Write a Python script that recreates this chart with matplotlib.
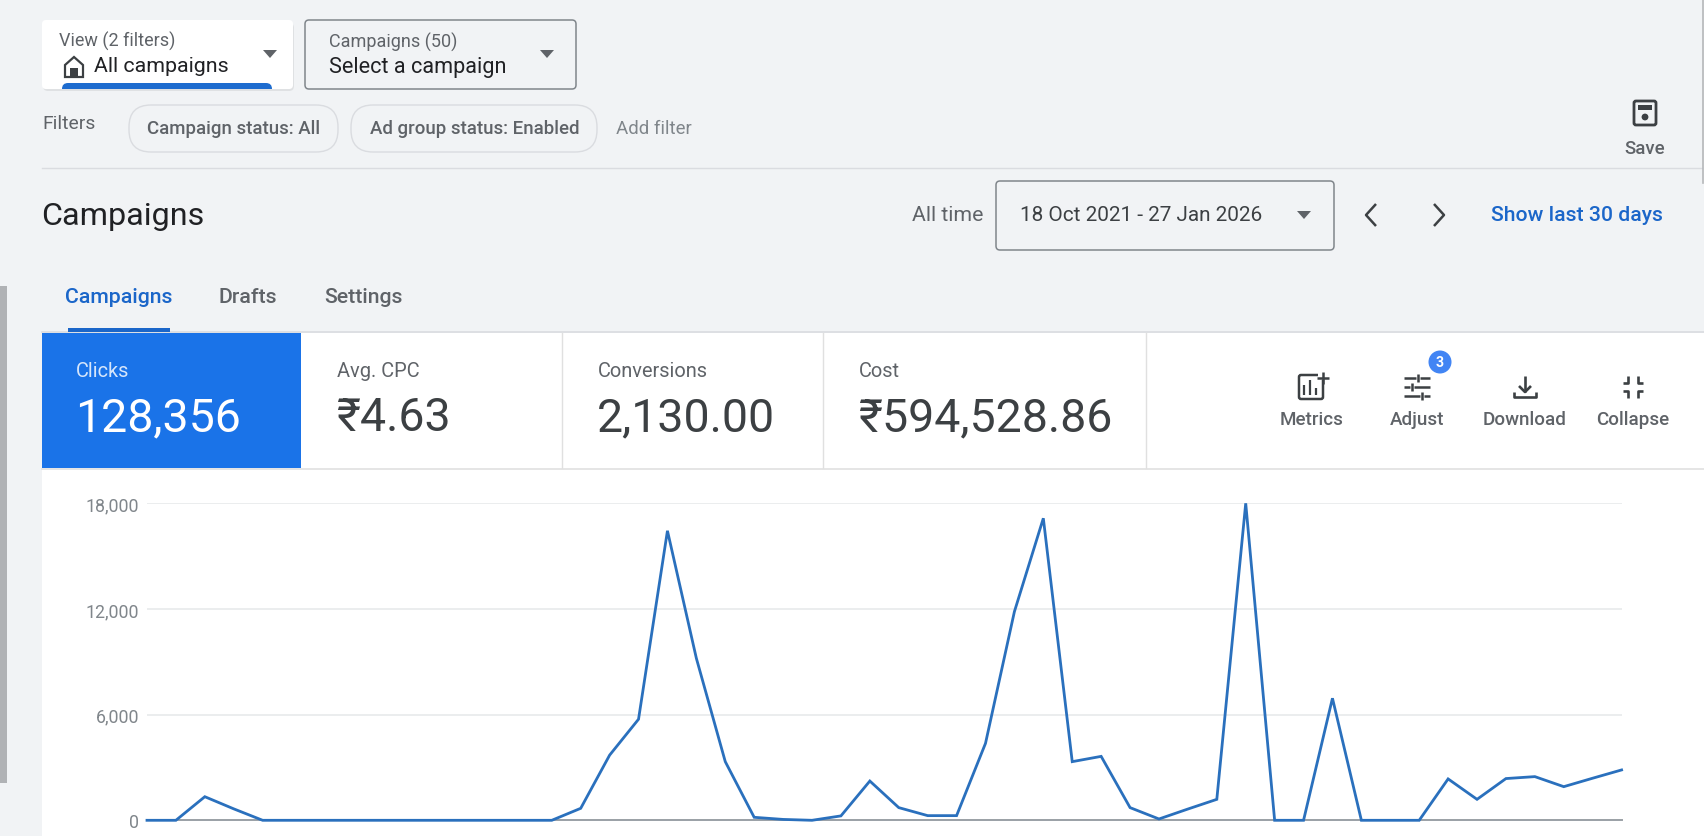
import matplotlib
matplotlib.use("Agg")
import matplotlib.pyplot as plt
from matplotlib.patches import Rectangle, FancyBboxPatch, Circle, Polygon

plt.rcParams['font.family'] = ['Roboto', 'DejaVu Sans']

# monthly clicks
months = list(range(52))
clicks = [0, 0, 1340, 650, 0, 0, 0, 0, 0, 0, 0, 0, 0, 0, 0, 680, 3700, 5740, 16440, 9200,
          3330, 170, 50, 0, 250, 2230, 720, 265, 265, 4370, 11850, 17150, 3330, 3630, 720, 75,
          640, 1190, 18000, 0, 0, 6930, 0, 0, 0, 2350, 1190, 2370, 2480, 1910, 2390, 2860]
y_ticks = [0, 6000, 12000, 18000]
y_labels = ['0', '6,000', '12,000', '18,000']

scorecards = [('Clicks', '128,356', 75), ('Avg. CPC', '₹4.63', 336),
              ('Conversions', '2,130.00', 597), ('Cost', '₹594,528.86', 858)]
tabs = [('Campaigns', 65, '#1b66c9'), ('Drafts', 219, '#5f6368'), ('Settings', 324, '#5f6368')]
tools = [('Metrics', 1312), ('Adjust', 1417), ('Download', 1525), ('Collapse', 1633)]

BG = '#f1f3f5'
BLUE = '#1a73e8'
GREY = '#5f6368'
LIGHT = '#80868b'
DARK = '#3c4043'
W, H = 1704, 837

fig = plt.figure(figsize=(W / 100, H / 100), dpi=100, facecolor=BG)

# page chrome, in pixel coordinates
ui = fig.add_axes([0, 0, 1, 1])
ui.set_xlim(0, W)
ui.set_ylim(H - 1, -1)
ui.axis('off')


def px(size):
    return size * 0.72


def label(x, y, s, size, color=GREY, ha='left', weight='normal'):
    ui.text(x, y, s, fontsize=px(size), color=color, ha=ha, va='center', weight=weight)


def box(x0, y0, x1, y1, face='white', edge='none', r=4, lw=1.0, z=2):
    ui.add_patch(FancyBboxPatch((x0 + r, y0 + r), x1 - x0 - 2 * r, y1 - y0 - 2 * r,
                                boxstyle='round,pad=%f,rounding_size=%f' % (r, r),
                                fc=face, ec=edge, lw=lw, zorder=z))


def caret(x, y, color=GREY):
    ui.add_patch(Polygon([(x - 7, y - 4), (x + 7, y - 4), (x, y + 4)], fc=color, ec='none', zorder=5))


def seg(pts, color=GREY, lw=1.6):
    xs, ys = zip(*pts)
    ui.plot(xs, ys, color=color, lw=lw, solid_capstyle='butt', zorder=5)


# dropdowns
box(43, 23, 294, 91, face='#dfe1e3', r=5, z=1)
box(42, 20, 293, 89)
tab_bar = FancyBboxPatch((68, 89), 198, 6, boxstyle='round,pad=6,rounding_size=6', fc='#1e6ccf', ec='none', zorder=3)
ui.add_patch(tab_bar)
tab_bar.set_clip_path(Rectangle((42, 20), 251, 69, transform=ui.transData))
box(305, 20, 576, 89, face=BG, edge=LIGHT, lw=1.1)
label(59, 40, 'View (2 filters)', 18)
label(94, 66, 'All campaigns', 21.4, color='#202124')
label(329, 41, 'Campaigns (50)', 18)
label(329, 66, 'Select a campaign', 21.6, color='#202124')
caret(270, 54)
caret(547, 54)
# little house
ui.add_patch(Polygon([(65, 65), (74, 57), (83, 65), (83, 77), (65, 77)], fc='none', ec=DARK, lw=1.6, zorder=5))
ui.add_patch(Rectangle((70, 68), 8, 9, fc=DARK, ec='none', zorder=5))

# filters
label(42, 123, 'Filters', 19.4)
box(129, 105, 338, 152, face=BG, edge='#dadce0', r=22)
box(351, 105, 597, 152, face=BG, edge='#dadce0', r=22)
label(147, 128, 'Campaign status: All', 18.7, weight='medium')
label(370, 128, 'Ad group status: Enabled', 18.7, weight='medium')
label(616, 128, 'Add filter', 18.7, color=LIGHT)
ui.plot([42, W - 2], [168, 168], color='#dadce0', lw=1)
ui.plot([W - 1, W - 1], [0, 183], color='#b5b7ba', lw=1.2)

# save button
ui.add_patch(FancyBboxPatch((1634, 101), 22, 24, boxstyle='round,pad=0,rounding_size=2', fc='none', ec=DARK, lw=2, zorder=5))
ui.add_patch(Rectangle((1638, 105), 14, 5, fc=DARK, ec='none', zorder=5))
ui.add_patch(Circle((1645, 117), 3.4, fc=DARK, ec='none', zorder=5))
label(1645, 148, 'Save', 18.6, ha='center', weight='medium')

# title row
label(41, 216, 'Campaigns', 32.3, color='#202124')
label(912, 215, 'All time', 21.3)
box(996, 181, 1334, 250, face=BG, edge=LIGHT, lw=1.1)
label(1020, 215, '18 Oct 2021 - 27 Jan 2026', 20.8, color=DARK)
caret(1304, 215)
seg([(1376, 204), (1366, 215), (1376, 226)], color=DARK, lw=1.8)
seg([(1434, 204), (1444, 215), (1434, 226)], color=DARK, lw=1.8)
label(1491, 215, 'Show last 30 days', 21.2, color='#1b66c9', weight='medium')

# tabs and scrollbar
for name, x, col in tabs:
    label(x, 297, name, 21.3, color=col, weight='medium')
ui.add_patch(Rectangle((68, 328), 102, 4, fc='#1b66c9', ec='none', zorder=3))
ui.add_patch(Rectangle((0, 286), 7, 497, fc='#b0b2b5', ec='none'))

# white panel with the score cards
ui.add_patch(Rectangle((42, 333), W - 42, H - 333, fc='white', ec='none', zorder=1))
ui.plot([42, W], [332, 332], color='#dadce0', lw=1.2, zorder=2)
ui.plot([42, W], [468.5, 468.5], color='#e0e0e0', lw=1.2, zorder=2)
ui.add_patch(Rectangle((42, 333), 259, 135, fc=BLUE, ec='none', zorder=2))
for x in [562, 823, 1146]:
    ui.plot([x, x], [333, 468], color='#e0e0e0', lw=1, zorder=2)
for i, (name, value, x) in enumerate(scorecards):
    col = 'white' if i == 0 else DARK
    label(x + 1, 371, name, 20, color='#d6e6fb' if i == 0 else GREY)
    label(x, 417, value, 46.5, color=col)

# tool buttons
for name, x in tools:
    label(x, 419, name, 18.8, ha='center', weight='medium')
ui.add_patch(FancyBboxPatch((1299, 375), 24, 24, boxstyle='round,pad=0,rounding_size=2', fc='none', ec=DARK, lw=1.8, zorder=5))
ui.add_patch(Rectangle((1318, 372), 10, 8, fc='white', ec='none', zorder=5))
seg([(1323, 372), (1323, 384)], color=DARK, lw=1.8)
seg([(1317, 378), (1329, 378)], color=DARK, lw=1.8)
seg([(1304, 385), (1304, 395)], color=DARK, lw=1.6)
seg([(1310, 380), (1310, 395)], color=DARK, lw=1.6)
seg([(1316, 388), (1316, 395)], color=DARK, lw=1.6)
for yy, xa, xb, xc, xd, xk in [(378, 1404, 1416, 1420, 1430, 1418), (387, 1404, 1410, 1414, 1430, 1412), (396, 1404, 1420, 1424, 1430, 1422)]:
    seg([(xa, yy), (xb, yy)], color=DARK, lw=1.8)
    seg([(xc, yy), (xd, yy)], color=DARK, lw=1.8)
    seg([(xk, yy - 4), (xk, yy + 4)], color=DARK, lw=1.8)
ui.add_patch(Circle((1440, 362), 11.5, fc='#4285f4', ec='none', zorder=6))
ui.text(1440, 362, '3', fontsize=px(14), color='white', ha='center', va='center', weight='bold', zorder=7)
seg([(1525, 376), (1525, 392)], color=DARK, lw=1.9)
seg([(1519, 386), (1525, 392), (1531, 386)], color=DARK, lw=1.9)
seg([(1514, 392), (1514, 397), (1536, 397), (1536, 392)], color=DARK, lw=1.9)
seg([(1628, 376), (1628, 383), (1623, 383)], color=DARK, lw=1.9)
seg([(1638, 376), (1638, 383), (1643, 383)], color=DARK, lw=1.9)
seg([(1623, 391), (1628, 391), (1628, 398)], color=DARK, lw=1.9)
seg([(1643, 391), (1638, 391), (1638, 398)], color=DARK, lw=1.9)

# the chart itself
left, right, top, bottom = 147, 1621.6, 504.3, 821.3
ax = fig.add_axes([left / W, 1 - bottom / H, (right - left) / W, (bottom - top) / H])
ax.patch.set_alpha(0)
ax.plot(months, clicks, color='#2a70bd', lw=2.0, clip_on=False, zorder=4, solid_joinstyle='miter')
ax.set_xlim(0, 51)
ax.set_ylim(0, 18000)
ax.set_yticks(y_ticks)
ax.set_yticklabels(y_labels, fontsize=px(17.7), color=LIGHT)
ax.set_xticks([])
ax.tick_params(axis='y', length=0, pad=5.5)
ax.grid(axis='y', color='#e6e8ea', lw=1.1)
ax.set_axisbelow(True)
for side in ['top', 'left', 'right']:
    ax.spines[side].set_visible(False)
ax.spines['bottom'].set_color('#9aa0a6')
ax.spines['bottom'].set_linewidth(1.4)

fig.savefig('out.png', dpi=100, facecolor=BG)
